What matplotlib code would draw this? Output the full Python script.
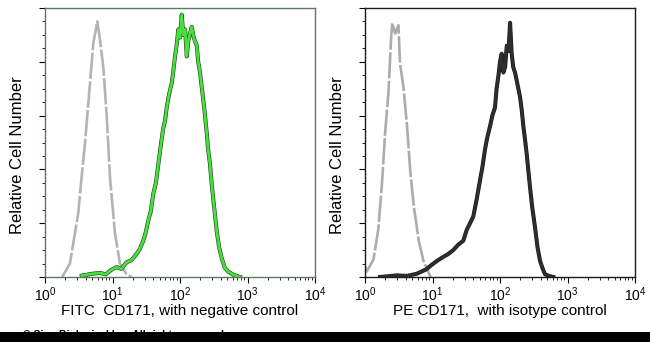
import matplotlib
matplotlib.use("Agg")
import matplotlib.pyplot as plt
import matplotlib.patheffects as pe
from matplotlib.ticker import LogLocator, MultipleLocator, NullFormatter
import numpy as np

plt.rcParams['font.family'] = ['Liberation Sans', 'DejaVu Sans']

# ---- FITC panel: CD171 stained cells vs negative control ----
fitc_ctrl_x = [1.8, 2.34, 3.12, 3.30, 3.92, 4.64, 5.20, 5.96, 6.53, 7.31, 8.20, 9.18, 10.9, 12.9, 16.2, 19.2]
fitc_ctrl_y = [0, 5, 24, 31, 50, 72, 87, 95, 88, 78, 60, 37, 16, 5, 1, 0]

fitc_cd171_x = [3.50, 5.0, 6.53, 8.0, 9.5, 11.5, 13.5, 16.2, 19.0, 22.8, 25.5, 28.6, 31.0, 33.9, 37.0,
                40.2, 44.0, 47.8, 52.0, 56.6, 60.0, 63.5, 69.0, 75.3, 80.0, 84.3, 89.0, 94.4, 100,
                106, 112, 119, 126, 133, 149, 160, 177, 186, 198, 209, 221, 235, 248, 262, 278,
                294, 311, 330, 350, 380, 415, 460, 520, 620, 774]
fitc_cd171_y = [0.5, 1.2, 1.5, 1.0, 2.6, 3.7, 3.0, 5.5, 6.2, 8.6, 10.5, 13.5, 16.5, 21, 24.5,
                31, 35, 42, 49, 55.5, 58, 63, 68, 72, 77, 82, 86, 92, 89,
                97.5, 90, 92, 82, 88, 93, 89, 86, 80, 76, 71, 66, 60, 54, 47, 42,
                35, 29, 23, 17, 11, 7, 3.5, 2, 0.8, 0]

# ---- PE panel: CD171 stained cells vs isotype control ----
pe_ctrl_x = [1.0, 1.06, 1.33, 1.57, 1.77, 1.98, 2.23, 2.45, 2.54, 2.80, 3.13, 3.30, 3.70, 4.17, 4.71,
             5.30, 6.26, 7.34, 8.46, 9.38]
pe_ctrl_y = [4, 2, 6.4, 17.5, 33.5, 53, 69, 90, 94.4, 90.5, 93.6, 79.5, 70.8, 57, 38.5,
             26, 13.5, 6, 2.5, 0]

pe_cd171_x = [1.67, 2.95, 4.2, 5.83, 8.0, 10.3, 12.0, 14.5, 17.0, 20.3, 24.0, 28.6, 32.1, 36.0, 40.2,
              45.2, 50.6, 55.0, 60.0, 65.0, 71.1, 77.0, 84.3, 89.0, 94.4, 100, 106, 112, 119,
              126, 134, 141, 149, 157, 167, 177, 187, 198, 210, 222, 235, 248, 262, 278, 300,
              330, 360, 392, 430, 465, 530, 617]
pe_cd171_y = [0, 0.6, 0.4, 1.2, 2.8, 5, 6.2, 7.5, 8.5, 10, 12, 13.5, 17.5, 20, 22.5,
              29, 36, 41, 47.5, 52, 56, 60, 63, 70, 74.5, 80, 83, 76, 78,
              86, 84, 94.5, 83, 78, 76, 73, 70, 67, 62, 56, 51, 46, 40, 33.5, 26,
              18.5, 11, 6, 3, 1, 0.4, 0]

panels = [
    dict(ctrl=(fitc_ctrl_x, fitc_ctrl_y), samp=(fitc_cd171_x, fitc_cd171_y),
         ctrl_color='#b3b3b3', samp_color='#46e23c', edge='#264226',
         frame='#5a7a5a', xlabel='FITC  CD171, with negative control', left=45),
    dict(ctrl=(pe_ctrl_x, pe_ctrl_y), samp=(pe_cd171_x, pe_cd171_y),
         ctrl_color='#acacac', samp_color='#2e2e2e', edge='#1a1a1a',
         frame='#1a1a1a', xlabel='PE CD171,  with isotype control', left=365),
]

W, H = 650, 342
fig = plt.figure(figsize=(W / 100, H / 100), dpi=100)

for p in panels:
    ax = fig.add_axes([p['left'] / W, 1 - 277 / H, 270 / W, 269 / H])
    ax.set_xscale('log')
    ax.set_xlim(1, 1e4)
    ax.set_ylim(0, 100)

    cx, cy = p['ctrl']
    ax.plot(cx, cy, color=p['ctrl_color'], lw=1.9, ls=(0, (10, 0.9)),
            solid_capstyle='butt', zorder=2)

    sx, sy = p['samp']
    ax.plot(sx, sy, color=p['samp_color'], lw=2.0, zorder=3,
            path_effects=[pe.Stroke(linewidth=2.9, foreground=p['edge']), pe.Normal()])

    for s in ax.spines.values():
        s.set_color(p['frame'])
        s.set_linewidth(1.0)

    ax.xaxis.set_major_locator(LogLocator(base=10, numticks=10))
    ax.xaxis.set_minor_locator(LogLocator(base=10, subs=np.arange(2, 10), numticks=20))
    ax.xaxis.set_minor_formatter(NullFormatter())
    ax.yaxis.set_major_locator(MultipleLocator(20))
    ax.yaxis.set_minor_locator(MultipleLocator(5))
    ax.tick_params(axis='x', which='major', direction='out', length=4, width=0.8,
                   labelsize=10, pad=2, colors='black')
    ax.tick_params(axis='x', which='minor', direction='out', length=2.2, width=0.6)
    ax.tick_params(axis='y', which='major', direction='out', length=4, width=0.8, labelleft=False)
    ax.tick_params(axis='y', which='minor', direction='out', length=2, width=0.6)

    ax.set_xlabel(p['xlabel'], fontsize=11, labelpad=0)
    ax.set_ylabel('Relative Cell Number', fontsize=12)
    ax.yaxis.set_label_coords(-20 / 270, (277 - 155.5) / 269)

# footer band with copyright notice
fig.text(23 / W, 1 - 329.5 / H, '\u00a9 Sino Biological Inc. All rights reserved',
         fontsize=7.5, fontweight='bold', color='black', va='top', ha='left')
fig.patches.append(plt.Rectangle((0, 0), 1, 1 - 332 / H, transform=fig.transFigure,
                                 facecolor='black', edgecolor='none', zorder=5))

fig.savefig('out.png', dpi=100)
